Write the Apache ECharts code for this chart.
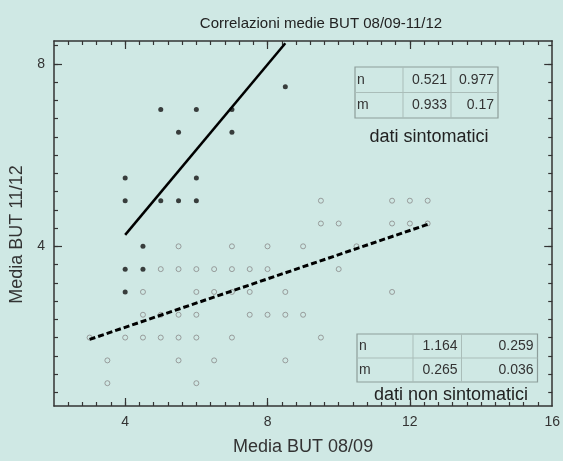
<!DOCTYPE html>
<html>
<head>
<meta charset="utf-8">
<script src="https://cdn.jsdelivr.net/npm/echarts@6/dist/echarts.min.js"></script>
<style>
  html, body { margin: 0; padding: 0; background: #cfe8e4; }
  #main { width: 563px; height: 461px; }
</style>
</head>
<body>
<div id="main"></div>
<script>
// punti dei pazienti sintomatici (pieni)
const sintPoints = [
  [4, 5.5], [4, 5], [5, 7], [6, 7], [7, 7], [5.5, 6.5], [7, 6.5], [8.5, 7.5],
  [6, 5.5], [5, 5], [5.5, 5], [6, 5], [4.5, 4], [4, 3.5], [4.5, 3.5], [4, 3]
]
// punti non sintomatici (vuoti)
const nonSintPoints = [
  [9.5, 5], [11.5, 5], [12, 5], [12.5, 5],
  [9.5, 4.5], [10, 4.5], [11.5, 4.5], [12, 4.5], [12.5, 4.5],
  [5.5, 4], [7, 4], [8, 4], [9, 4], [10.5, 4],
  [5, 3.5], [5.5, 3.5], [6, 3.5], [6.5, 3.5], [7, 3.5], [7.5, 3.5], [8, 3.5], [10, 3.5],
  [4.5, 3], [6, 3], [6.5, 3], [7, 3], [7.5, 3], [8.5, 3], [11.5, 3],
  [4.5, 2.5], [5, 2.5], [5.5, 2.5], [6, 2.5], [7.5, 2.5], [8, 2.5], [8.5, 2.5], [9, 2.5],
  [3, 2], [4, 2], [4.5, 2], [5, 2], [5.5, 2], [6, 2], [7, 2], [9.5, 2],
  [3.5, 1.5], [5.5, 1.5], [6.5, 1.5], [8.5, 1.5],
  [3.5, 1], [6, 1]
]
// rette di regressione (estremi)
const sintLine = [[4, 4.25], [8.5, 8.45]]
const nonSintLine = [[3, 1.96], [12.5, 4.48]]

const xLabels = [4, 8, 12, 16]
const xMajor = [4, 8, 12]
const yLabels = [4, 8]
const yMajor = [4, 8]

const tblSint = [['n', '0.521', '0.977'], ['m', '0.933', '0.17']]
const tblNonSint = [['n', '1.164', '0.259'], ['m', '0.265', '0.036']]

let xMinor = []
for (let i = 1; i < 35; i++) xMinor.push(+(2 + i * 0.4).toFixed(1))
let yMinor = []
for (let i = 1; i <= 21; i++) yMinor.push(+(i * 0.4).toFixed(1))

const axisColor = '#333'
const font = '"Liberation Sans", Arial, sans-serif'

function makeTable(x, y, cols, rowH, rows, caption, capX, capY) {
  let els = []
  let total = cols.reduce((a, b) => a + b, 0)
  els.push({ type: 'rect', shape: { x: x, y: y, width: total, height: rowH * rows.length },
    style: { fill: 'none', stroke: '#8d9d9a', lineWidth: 1.2 } })
  els.push({ type: 'line', shape: { x1: x, y1: y + rowH, x2: x + total, y2: y + rowH },
    style: { stroke: '#aabdb9', lineWidth: 1 } })
  let cx = x
  for (let c = 0; c < cols.length - 1; c++) {
    cx += cols[c]
    els.push({ type: 'line', shape: { x1: cx, y1: y, x2: cx, y2: y + rowH * rows.length },
      style: { stroke: '#aabdb9', lineWidth: 1 } })
  }
  rows.forEach((row, r) => {
    let left = x
    row.forEach((txt, c) => {
      let right = left + cols[c]
      els.push({ type: 'text', x: c === 0 ? left + 2 : right - 4, y: y + rowH * r + rowH / 2,
        style: { text: txt, font: '14px ' + font, fill: '#333',
          align: c === 0 ? 'left' : 'right', verticalAlign: 'middle' } })
      left = right
    })
  })
  els.push({ type: 'text', x: capX, y: capY,
    style: { text: caption, font: '18px ' + font, fill: '#222', align: 'center', verticalAlign: 'middle' } })
  return els
}

function xAxisDef(pos, ticks, len, labels) {
  return {
    type: 'value', position: pos, min: 2, max: 16,
    axisLine: { show: len < 6, onZero: false, lineStyle: { color: axisColor, width: 1.5 } },
    axisTick: { show: true, inside: true, length: len, customValues: ticks,
      lineStyle: { color: axisColor, width: 1.2 } },
    axisLabel: labels ? { customValues: labels, color: '#333', fontSize: 14, fontFamily: font, margin: 9 } : { show: false },
    splitLine: { show: false }
  }
}
function yAxisDef(pos, ticks, len, labels) {
  return {
    type: 'value', position: pos, min: 0.5, max: 8.5,
    axisLine: { show: len < 6, onZero: false, lineStyle: { color: axisColor, width: 1.5 } },
    axisTick: { show: true, inside: true, length: len, customValues: ticks,
      lineStyle: { color: axisColor, width: 1.2 } },
    axisLabel: labels ? { customValues: labels, color: '#333', fontSize: 14, fontFamily: font, margin: 9 } : { show: false },
    splitLine: { show: false }
  }
}

const chart = echarts.init(document.getElementById('main'))

let xAxes = [
  xAxisDef('bottom', xMinor, 4, xLabels),
  xAxisDef('bottom', xMajor, 8, null),
  xAxisDef('top', xMinor, 4, null),
  xAxisDef('top', xMajor, 8, null)
]
xAxes[0].name = 'Media BUT 08/09'
xAxes[0].nameLocation = 'middle'
xAxes[0].nameGap = 32
xAxes[0].nameTextStyle = { fontSize: 18, color: '#333', fontFamily: font }

let yAxes = [
  yAxisDef('left', yMinor, 4, yLabels),
  yAxisDef('left', yMajor, 8, null),
  yAxisDef('right', yMinor, 4, null),
  yAxisDef('right', yMajor, 8, null)
]
yAxes[0].name = 'Media BUT 11/12'
yAxes[0].nameLocation = 'middle'
yAxes[0].nameGap = 26
yAxes[0].nameTextStyle = { fontSize: 18, color: '#333', fontFamily: font, padding: [0, 22, 0, 0] }

const option = {
  backgroundColor: '#cfe8e4',
  animation: false,
  title: {
    text: 'Correlazioni medie BUT 08/09-11/12',
    left: 316, top: 11, textAlign: 'center',
    textStyle: { fontSize: 15, fontWeight: 'normal', color: '#222', fontFamily: font }
  },
  grid: { left: 54, right: 7, top: 41, bottom: 50 },
  xAxis: xAxes,
  yAxis: yAxes,
  series: [
    {
      type: 'scatter', data: nonSintPoints, symbol: 'circle', symbolSize: 5,
      itemStyle: { color: 'rgba(0,0,0,0)', borderColor: '#8a8a8a', borderWidth: 1 }
    },
    {
      type: 'scatter', data: sintPoints, symbol: 'circle', symbolSize: 5,
      itemStyle: { color: '#111' }
    },
    {
      type: 'line', data: sintLine, showSymbol: false, symbol: 'none',
      lineStyle: { color: '#000', width: 2.5 }
    },
    {
      type: 'line', data: nonSintLine, showSymbol: false, symbol: 'none',
      lineStyle: { color: '#000', width: 3, type: [6, 3] }
    }
  ],
  graphic: [].concat(
    makeTable(355, 67, [48, 48, 47], 25.5, tblSint, 'dati sintomatici', 429, 137),
    makeTable(357, 334, [56, 48.5, 76], 24, tblNonSint, 'dati non sintomatici', 451, 395)
  )
}

chart.setOption(option)
</script>
</body>
</html>
